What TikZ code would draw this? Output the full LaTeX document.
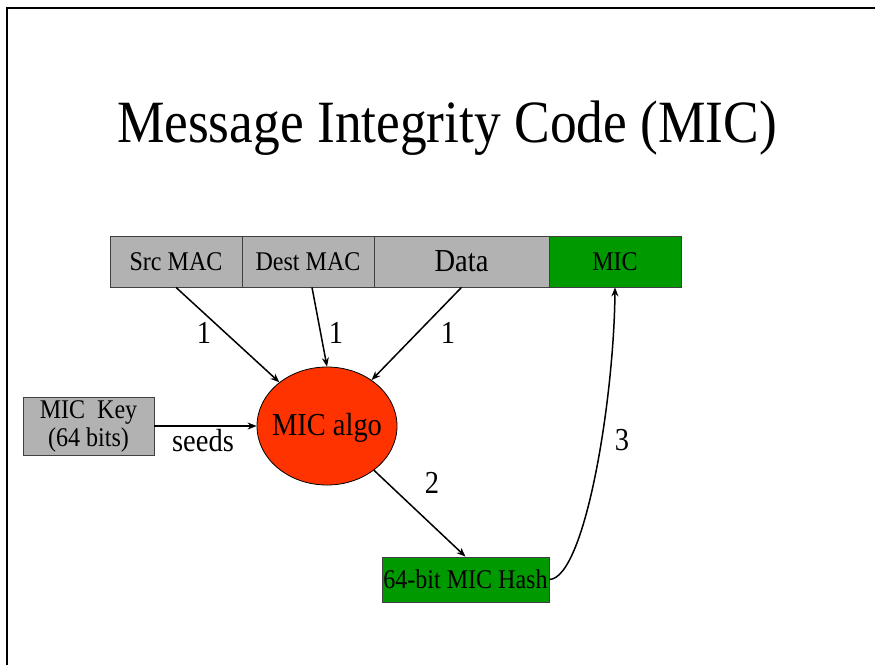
\documentclass[tikz,border=0pt]{standalone}
\usepackage{fontspec}
\usepackage{graphicx}
\setmainfont{Liberation Serif}
\usetikzlibrary{arrows.meta,shapes.geometric}

% slightly condensed text, as on the slide
\newcommand\cond[1]{\scalebox{0.89}[1]{#1}}

\definecolor{boxgray}{HTML}{B2B2B2}
\definecolor{micgreen}{HTML}{009900}
\definecolor{algored}{HTML}{FF3300}

\tikzset{
  frameline/.style={line width=2pt, black},
  field/.style={draw=black!75, line width=0.8pt, fill=boxgray, inner sep=0pt,
                minimum height=51pt, font=\fontsize{27}{30}\selectfont},
  greenbox/.style={draw=black!75, line width=0.8pt, fill=micgreen, inner sep=0pt,
                font=\fontsize{27}{30}\selectfont},
  algo/.style={ellipse, draw=black, line width=0.8pt, fill=algored, inner sep=0pt,
                minimum width=140pt, minimum height=118pt},
  flow/.style={-{Stealth[length=9pt,width=7pt]}, line width=1.5pt, black},
  lbl/.style={inner sep=0pt, font=\fontsize{32}{36}\selectfont}
}

\begin{document}
\begin{tikzpicture}[x=1pt,y=-1pt]
  \useasboundingbox (0,0) rectangle (875,665);

  % slide frame
  \draw[frameline] (875,8) -| (7,665);

  % title
  \node[inner sep=0pt, font=\fontsize{60}{66}\selectfont] (title) at (447,128)
    {\cond{Message Integrity Code (MIC)}};

  % frame fields
  \node[field, minimum width=132pt] (src)  at (176,261.5) {\cond{Src MAC}};
  \node[field, minimum width=132pt] (dest) at (308,261.5) {\cond{Dest MAC}};
  \node[field, minimum width=175pt, font=\fontsize{32}{36}\selectfont] (data) at (461.5,261.5) {\cond{Data}};
  \node[greenbox, minimum width=132pt, minimum height=51pt] (mic) at (615,261.5) {\cond{MIC}};

  % key, algorithm, hash
  \node[field, minimum width=131pt, minimum height=58pt, align=center,
        font=\fontsize{27}{28}\selectfont] (key) at (88.5,426)
    {\cond{MIC\ \ Key}\\\cond{(64 bits)}};
  \node[algo] (alg) at (327,426) {};
  \node[lbl] (algtext) at (327,428) {\cond{MIC algo}};
  \node[greenbox, minimum width=167pt, minimum height=45pt] (hash) at (465.5,579.5)
    {\cond{64-bit MIC Hash}};

  % connectors
  \draw[flow] (src.south -| 176,0) -- (alg);
  \draw[flow] (dest.south -| 312,0) -- (alg.north);
  \draw[flow] (data.south) -- (alg);
  \draw[flow] (key.east) -- (alg.west);
  \draw[flow] (alg) -- (hash.north);
  \coordinate (c1) at (585,578);
  \coordinate (c2) at (614,400);
  \draw[flow] (hash.east) .. controls (c1) and (c2) .. (mic.south);

  % connector labels
  \node[lbl] (l1) at (204,333) {\cond{1}};
  \node[lbl] (l2) at (336,333) {\cond{1}};
  \node[lbl] (l3) at (448,333) {\cond{1}};
  \node[lbl] (seeds) at (203,441) {\cond{seeds}};
  \node[lbl] (l4) at (432,483) {\cond{2}};
  \node[lbl] (l5) at (622,440) {\cond{3}};
\end{tikzpicture}
\end{document}
